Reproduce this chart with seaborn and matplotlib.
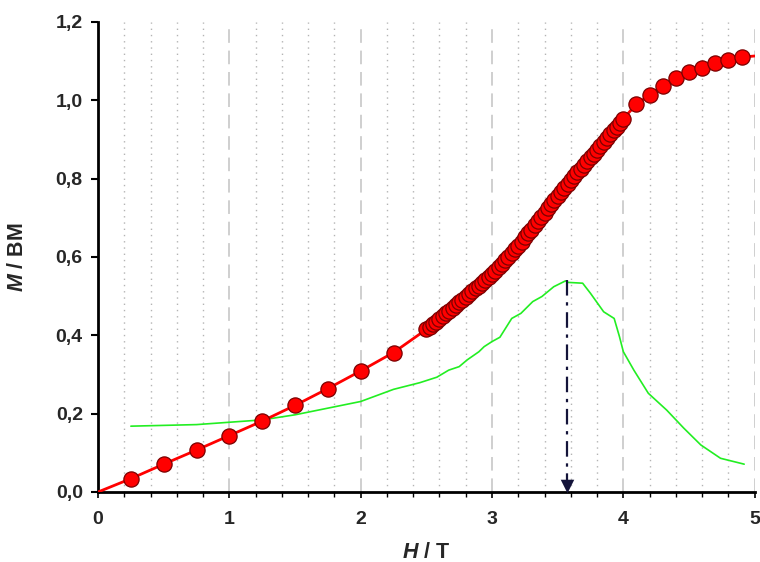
import matplotlib
matplotlib.use("Agg")
import matplotlib.pyplot as plt
import numpy as np
import pandas as pd
import seaborn as sns
from matplotlib.ticker import MultipleLocator, FuncFormatter

# ---- data ----
# magnetisation points (sparse low field)
h_low = [0.25, 0.50, 0.75, 1.00, 1.25, 1.50, 1.75, 2.00, 2.25]
m_low = [0.034, 0.071, 0.107, 0.144, 0.181, 0.221, 0.264, 0.309, 0.356]

# dense region 2.5 .. 4.0 T
h_dense = [2.500, 2.525, 2.550, 2.575, 2.600, 2.625, 2.650, 2.675, 2.700, 2.725,
           2.750, 2.775, 2.800, 2.825, 2.850, 2.875, 2.900, 2.925, 2.950, 2.975,
           3.000, 3.025, 3.050, 3.075, 3.100, 3.125, 3.150, 3.175, 3.200, 3.225,
           3.250, 3.275, 3.300, 3.325, 3.350, 3.375, 3.400, 3.425, 3.450, 3.475,
           3.500, 3.525, 3.550, 3.575, 3.600, 3.625, 3.650, 3.675, 3.700, 3.725,
           3.750, 3.775, 3.800, 3.825, 3.850, 3.875, 3.900, 3.925, 3.950, 3.975,
           4.000]
m_dense = [0.415, 0.422, 0.429, 0.435, 0.442, 0.449, 0.456, 0.463, 0.470, 0.477,
           0.484, 0.491, 0.498, 0.505, 0.512, 0.520, 0.527, 0.534, 0.542, 0.549,
           0.556, 0.565, 0.574, 0.582, 0.591, 0.601, 0.610, 0.620, 0.629, 0.639,
           0.650, 0.660, 0.670, 0.681, 0.692, 0.702, 0.713, 0.724, 0.734, 0.745,
           0.755, 0.765, 0.776, 0.786, 0.796, 0.806, 0.816, 0.825, 0.835, 0.845,
           0.854, 0.864, 0.873, 0.883, 0.893, 0.903, 0.913, 0.923, 0.933, 0.943,
           0.953]

# sparse high field
h_high = [4.1, 4.2, 4.3, 4.4, 4.5, 4.6, 4.7, 4.8, 4.9]
m_high = [0.990, 1.014, 1.037, 1.056, 1.071, 1.083, 1.094, 1.103, 1.110]

# curve end points
h_start, m_start = 0.0, 0.0
h_end, m_end = 5.0, 1.113

# derivative curve (green)
h_deriv = [0.25, 0.50, 0.75, 1.00, 1.25, 1.50, 1.75, 2.00, 2.25, 2.45, 2.58, 2.67,
           2.75, 2.81, 2.90, 2.94, 3.00, 3.06, 3.15, 3.22, 3.31, 3.38, 3.47, 3.56,
           3.58, 3.69, 3.75, 3.85, 3.93, 3.97, 4.00, 4.08, 4.19, 4.33, 4.46, 4.59,
           4.74, 4.92]
m_deriv = [0.168, 0.170, 0.172, 0.178, 0.184, 0.197, 0.214, 0.231, 0.262, 0.279,
           0.293, 0.311, 0.320, 0.337, 0.358, 0.371, 0.384, 0.395, 0.443, 0.456,
           0.486, 0.499, 0.524, 0.539, 0.535, 0.533, 0.507, 0.460, 0.443, 0.397,
           0.358, 0.311, 0.252, 0.209, 0.163, 0.120, 0.086, 0.071]

# critical field marker
peak_h, peak_m = 3.57, 0.54

x_ticks = [0, 1, 2, 3, 4, 5]
y_ticks = [0.0, 0.2, 0.4, 0.6, 0.8, 1.0, 1.2]

# ---- style ----
sns.set_theme(style="white")
plt.rcParams["font.family"] = ["Liberation Sans", "DejaVu Sans"]
plt.rcParams["font.weight"] = "bold"
plt.rcParams["mathtext.fontset"] = "custom"
plt.rcParams["mathtext.it"] = "Liberation Sans:italic:bold"
plt.rcParams["mathtext.rm"] = "Liberation Sans:bold"

fig = plt.figure(figsize=(7.6, 5.62), dpi=100)
ax = fig.add_axes([0.129, 0.1246, 0.864, 0.8364])

pts = pd.DataFrame({"H": h_low + h_dense + h_high,
                    "M": m_low + m_dense + m_high})
line = pd.DataFrame({"H": [h_start] + h_low + h_dense + h_high + [h_end],
                     "M": [m_start] + m_low + m_dense + m_high + [m_end]})
deriv = pd.DataFrame({"H": h_deriv, "M": m_deriv})

ax.set_axisbelow(True)
ax.xaxis.set_major_locator(MultipleLocator(1))
ax.xaxis.set_minor_locator(MultipleLocator(0.2))
ax.grid(which="major", axis="x", color="#cfcfcf", linestyle=(0, (7, 4)), linewidth=1.4)
ax.grid(which="minor", axis="x", color="#b4b4b4", linestyle=(0, (1, 3.5)), linewidth=1.0)
ax.grid(which="major", axis="y", visible=False)

sns.lineplot(data=deriv, x="H", y="M", sort=False, estimator=None,
             color="#22ee22", linewidth=1.2, ax=ax, zorder=3)
sns.lineplot(data=line, x="H", y="M", sort=False, estimator=None,
             color="#ff0000", linewidth=2.0, ax=ax, zorder=4)
sns.scatterplot(data=pts, x="H", y="M", s=120, color="#ff0000",
                edgecolor="#7a0000", linewidth=0.9, ax=ax, zorder=5)

# critical field arrow
ax.plot([peak_h, peak_h], [peak_m, 0.02], color="#14143a",
        linestyle=(0, (7, 3, 1.5, 3)), linewidth=1.6, zorder=6)
ax.scatter([peak_h], [0.0155], marker="v", s=95, color="#14143a", zorder=7,
           clip_on=False, linewidths=0)

ax.set_xlim(0, 5)
ax.set_ylim(0, 1.2)
ax.set_xticks(x_ticks)
ax.set_yticks(y_ticks)
ax.yaxis.set_major_formatter(FuncFormatter(lambda v, p: f"{v:.1f}".replace(".", ",")))
ax.xaxis.set_major_formatter(FuncFormatter(lambda v, p: f"{v:.0f}"))

for side in ["top", "right"]:
    ax.spines[side].set_visible(False)
for side in ["left", "bottom"]:
    ax.spines[side].set_color("black")
    ax.spines[side].set_linewidth(2.0)

ax.tick_params(axis="y", which="major", direction="out", length=5, width=1.5,
               color="black", labelsize=14, pad=6, left=True)
ax.tick_params(axis="x", which="major", direction="out", length=4, width=1.2,
               color="black", labelsize=14, pad=10, bottom=True)
ax.tick_params(axis="x", which="minor", direction="out", length=3.5, width=1.0,
               color="black", bottom=True)
for lbl in ax.get_xticklabels() + ax.get_yticklabels():
    lbl.set_fontweight("bold")

ax.set_xlabel(r"$\it{H}$ / T", fontsize=15.5, fontweight="bold", labelpad=10)
ax.set_ylabel(r"$\it{M}$ / BM", fontsize=15.5, fontweight="bold")
ax.yaxis.set_label_coords(-0.107, 0.5)

fig.savefig("out.png", dpi=100, facecolor="white")
